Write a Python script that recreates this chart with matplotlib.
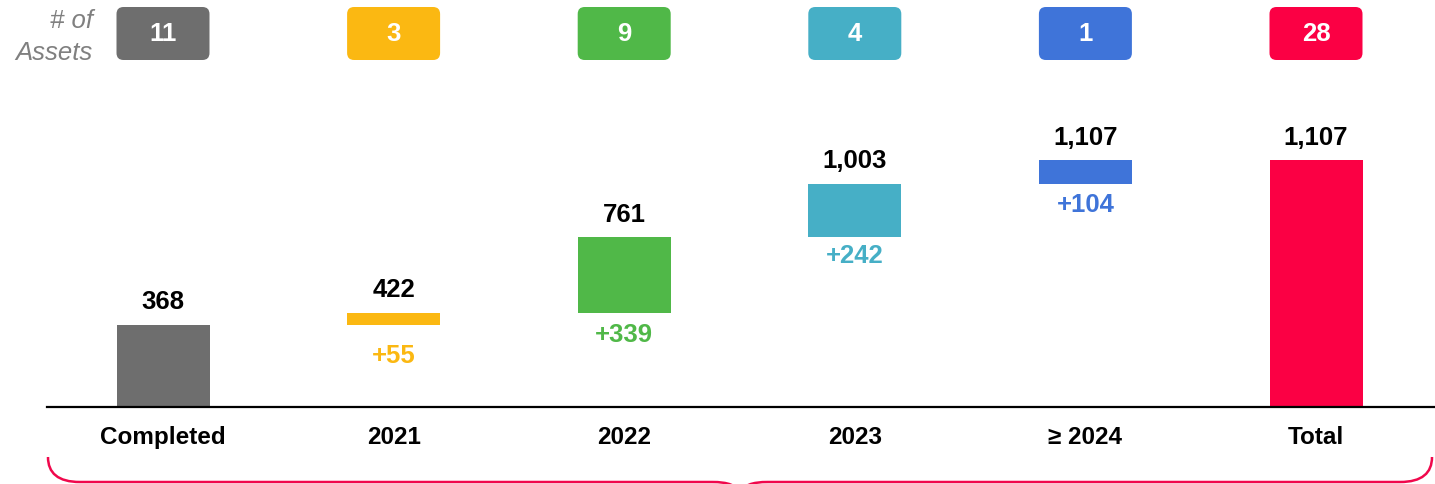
import matplotlib
matplotlib.use("Agg")
import matplotlib.pyplot as plt
from matplotlib.patches import FancyBboxPatch, PathPatch
from matplotlib.path import Path
import numpy as np

plt.rcParams['font.family'] = ['Liberation Sans', 'DejaVu Sans']

# data
categories = ['Completed', '2021', '2022', '2023', '\u2265 2024', 'Total']
asset_counts = [11, 3, 9, 4, 1, 28]
cumulative = [368, 422, 761, 1003, 1107]
increments = [55, 339, 242, 104]
total = 1107
colors = ['#6e6e6e', '#fbb812', '#50b848', '#46afc6', '#3f74d9', '#fb0044']

W, H = 1435, 485
fig = plt.figure(figsize=(W / 100, H / 100), dpi=100)

# axes: baseline at y=408px, x from 47px to right edge
base_px = 408
ax = fig.add_axes([47 / W, (H - base_px) / H, 1 - 47 / W, base_px / H])
px_per_unit = 82 / 368.0
step_px = 230.6
ax.set_xlim(-(163 - 47) / step_px, (W - 163) / step_px)
ax.set_ylim(0, base_px / px_per_unit)
for s in ['top', 'right', 'left']:
    ax.spines[s].set_visible(False)
ax.spines['bottom'].set_linewidth(1.6)
ax.set_yticks([])

x = np.arange(len(categories))
width = 93 / step_px

# bars
bottoms = [0] + cumulative[:-1] + [0]
tops = cumulative + [total]
heights = [t - b for t, b in zip(tops, bottoms)]
ax.bar(x, heights, bottom=bottoms, width=width, color=colors, linewidth=0)

# value labels above the bars
for i in range(len(categories)):
    ax.annotate(f'{tops[i]:,}', (x[i], tops[i]), xytext=(0, 12), textcoords='offset points',
                ha='center', va='baseline', fontsize=18.5, fontweight='bold', color='black')

# increment labels below the floating bars
gaps = [18, 9, 6, 8]
for i, inc in enumerate(increments):
    j = i + 1
    ax.annotate(f'+{inc}', (x[j], bottoms[j]), xytext=(0, -gaps[i] * 0.72), textcoords='offset points',
                ha='center', va='top', fontsize=18.5, fontweight='bold', color=colors[j])

# category labels
ax.set_xticks(x)
ax.set_xticklabels(categories, fontsize=17.5, fontweight='bold')
ax.tick_params(axis='x', length=0, pad=13)

# asset count badges
unit_y = 1 / px_per_unit
unit_x = 1 / step_px
b_lo = (base_px - 61) * unit_y
b_hi = (base_px - 8) * unit_y
for i in range(len(categories)):
    patch = FancyBboxPatch((x[i] - width / 2, b_lo), width, b_hi - b_lo,
                           boxstyle=f'round,pad=0,rounding_size={7 * unit_x}',
                           mutation_aspect=unit_y / unit_x,
                           facecolor=colors[i], edgecolor='none', clip_on=False)
    ax.add_patch(patch)
    ax.text(x[i], (b_lo + b_hi) / 2, str(asset_counts[i]), ha='center', va='center',
            fontsize=18.5, fontweight='bold', color='white')

fig.text(93 / W, 1 - 21 / H, '# of', ha='right', va='center', fontsize=18.5,
         style='italic', color='#808080')
fig.text(93 / W, 1 - 53 / H, 'Assets', ha='right', va='center', fontsize=18.5,
         style='italic', color='#808080')

# brace at the bottom
def fp(px, py):
    return (px / W, 1 - py / H)

verts = [fp(48, 458), fp(48, 474), fp(58, 483), fp(80, 483),
         fp(712, 483), fp(728, 483), fp(737, 486), fp(740, 495),
         fp(743, 486), fp(752, 483), fp(768, 483),
         fp(1400, 483), fp(1422, 483), fp(1432, 474), fp(1432, 458)]
codes = [Path.MOVETO, Path.CURVE4, Path.CURVE4, Path.CURVE4,
         Path.LINETO, Path.CURVE4, Path.CURVE4, Path.CURVE4,
         Path.CURVE4, Path.CURVE4, Path.CURVE4,
         Path.LINETO, Path.CURVE4, Path.CURVE4, Path.CURVE4]
brace = PathPatch(Path(verts, codes), transform=fig.transFigure, facecolor='none',
                  edgecolor='#f0084c', linewidth=1.8)
fig.patches.append(brace)

fig.savefig('out.png', dpi=100)
